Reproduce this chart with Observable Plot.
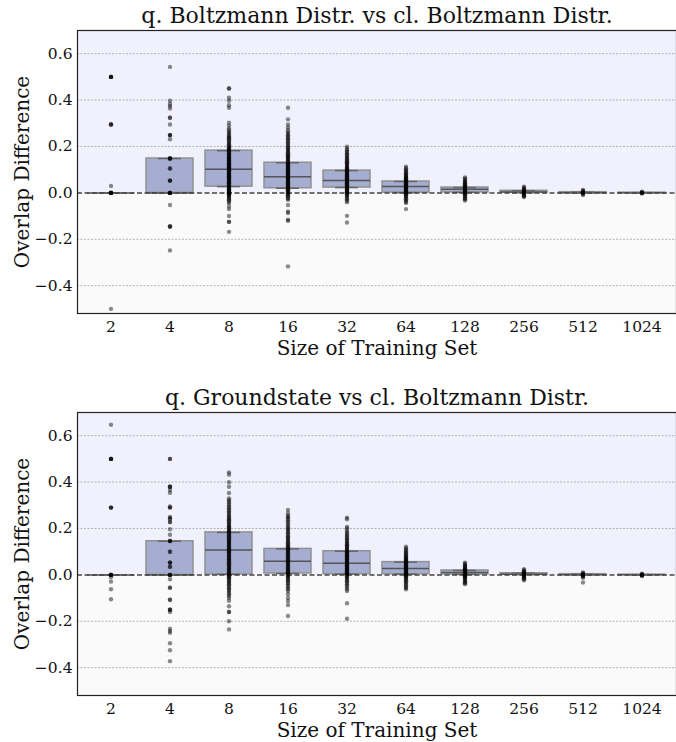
<!DOCTYPE html>
<html><head><meta charset="utf-8">
<script src="https://cdn.jsdelivr.net/npm/d3@7"></script>
<script src="https://cdn.jsdelivr.net/npm/@observablehq/plot@0.6"></script>
<style>
body{margin:0;background:#fff}
#c{position:relative;width:676px;height:742px}
#c > div{position:absolute;left:0}
svg, svg text{font-family:"DejaVu Serif", serif !important}
</style>
</head><body><div id="c"><div id="p1" style="top:0"></div><div id="p2" style="top:382px"></div></div>
<script>
const sizes = ["2","4","8","16","32","64","128","256","512","1024"];
const yTicks = [-0.4,-0.2,0,0.2,0.4,0.6];
const gridTicks = [-0.4,-0.2,0.2,0.4,0.6];

const title1 = "q. Boltzmann Distr. vs cl. Boltzmann Distr.";
const title2 = "q. Groundstate vs cl. Boltzmann Distr.";
const xLabel = "Size of Training Set";
const yLabel = "Overlap Difference";

// box statistics (panel 1)
const qbQ1  = [0, 0,     0.027, 0.020, 0.023, 0.001, 0.002, 0.001, 0,     0];
const qbMed = [0, 0,     0.102, 0.069, 0.053, 0.027, 0.016, 0.004, 0.001, 0.0005];
const qbQ3  = [0, 0.148, 0.182, 0.130, 0.096, 0.049, 0.023, 0.009, 0.003, 0.001];
// box statistics (panel 2)
const qgQ1  = [0, 0,     0.002, 0.006, 0.003, 0.003, 0.002, 0.001, 0,     0];
const qgMed = [0, 0,     0.107, 0.059, 0.050, 0.027, 0.010, 0.003, 0.001, 0.0005];
const qgQ3  = [0, 0.145, 0.183, 0.112, 0.102, 0.055, 0.019, 0.007, 0.003, 0.001];

// points panel 1
const qb2 = [0.5,0.5,0.5,0.5,0.295,0.295,0.295,0.03,0,0,0,0,0,0,0,0,-0.5];
const qb4 = [0.543,0.397,0.383,0.374,0.364,0.324,0.324,0.295,0.249,0.249,0.249,0.231,0.148,0.148,0.148,0.148,0.105,0.105,0.053,0.053,0.053,0,0,0,0,0,-0.052,-0.145,-0.145,-0.145,-0.248];
const qb8 = [0.45,0.45,0.41,0.397,0.378,0.367,0.302,0.29,
  0.278,0.27,0.262,0.258,0.25,0.245,0.24,0.236,0.23,0.226,0.22,0.215,0.21,0.205,0.2,0.197,0.193,0.19,0.186,0.182,0.18,0.177,0.173,0.17,0.166,0.163,0.16,0.156,0.152,0.15,0.148,0.146,0.143,0.14,0.137,0.134,0.131,0.128,0.125,0.122,0.12,0.117,0.114,0.111,0.108,0.105,0.102,0.1,0.098,0.095,0.092,0.09,0.087,0.084,0.081,0.078,0.075,0.072,0.07,0.067,0.064,0.061,0.058,0.055,0.052,0.05,0.047,0.044,0.041,0.038,0.035,0.032,0.03,0.027,0.025,0.022,0.019,0.016,0.013,0.01,0.008,0.005,0.003,0,0,0,-0.003,-0.006,-0.01,-0.014,-0.018,-0.022,-0.027,-0.032,-0.038,-0.044,
  -0.059,-0.07,-0.1,-0.125,-0.125,-0.168];
const qb16 = [0.367,0.317,0.295,0.282,0.27,
  0.26,0.254,0.248,0.242,0.236,0.23,0.224,0.218,0.212,0.206,0.2,0.195,0.19,0.185,0.18,0.175,0.17,0.166,0.162,0.158,0.154,0.15,0.146,0.142,0.138,0.134,0.13,0.127,0.124,0.121,0.118,0.115,0.112,0.109,0.106,0.103,0.1,0.097,0.094,0.091,0.088,0.085,0.082,0.079,0.076,0.073,0.07,0.067,0.064,0.061,0.058,0.055,0.052,0.049,0.046,0.043,0.04,0.037,0.034,0.031,0.028,0.025,0.022,0.019,0.016,0.013,0.01,0.007,0.004,0.001,-0.002,-0.006,-0.01,-0.015,-0.02,-0.025,-0.03,
  -0.052,-0.08,-0.087,-0.116,-0.12,-0.317];
const qb32 = [0.199,0.19,0.183,0.177,0.171,0.165,0.16,0.155,0.15,0.145,0.14,0.136,0.132,0.128,0.124,0.12,0.116,0.112,0.108,0.105,0.102,0.099,0.096,0.093,0.09,0.087,0.084,0.081,0.078,0.075,0.072,0.069,0.066,0.063,0.06,0.057,0.054,0.051,0.048,0.045,0.042,0.039,0.036,0.033,0.03,0.027,0.024,0.021,0.018,0.015,0.012,0.009,0.006,0.003,0,-0.004,-0.008,-0.012,-0.017,-0.022,-0.028,-0.034,-0.04,-0.099,-0.128];
const qb64 = [0.113,0.106,0.1,0.095,0.09,0.085,0.081,0.077,0.073,0.069,0.066,0.063,0.06,0.057,0.054,0.051,0.048,0.045,0.042,0.04,0.037,0.034,0.032,0.029,0.027,0.024,0.022,0.019,0.017,0.014,0.012,0.009,0.007,0.004,0.002,0,-0.003,-0.006,-0.01,-0.014,-0.018,-0.023,-0.028,-0.033,-0.038,-0.044,-0.07];
const qb128 = [0.067,0.061,0.056,0.051,0.047,0.043,0.04,0.036,0.033,0.03,0.027,0.024,0.021,0.018,0.016,0.013,0.011,0.008,0.006,0.004,0.002,0,-0.003,-0.006,-0.01,-0.014,-0.019,-0.024,-0.028,-0.033];
const qb256 = [0.027,0.022,0.018,0.014,0.011,0.008,0.006,0.004,0.002,0,-0.002,-0.005,-0.008,-0.012,-0.015,-0.018];
const qb512 = [0.013,0.009,0.006,0.003,0.001,0,-0.002,-0.005,-0.009];
const qb1024 = [0.005,0.003,0.001,0,-0.001,-0.003];

// points panel 2
const qg2 = [0.647,0.5,0.5,0.5,0.5,0.29,0.29,0.29,0,0,0,0,0,0,-0.01,-0.029,-0.062,-0.105];
const qg4 = [0.5,0.5,0.38,0.38,0.38,0.366,0.354,0.295,0.29,0.29,0.25,0.243,0.243,0.228,0.228,0.197,0.173,0.146,0.146,0.146,0.1,0.1,0.053,0.053,0.053,0.035,0.035,0,0,0,0,-0.019,-0.055,-0.055,-0.107,-0.107,-0.15,-0.15,-0.15,-0.16,-0.232,-0.242,-0.25,-0.295,-0.325,-0.372];
const qg8 = [0.442,0.432,0.399,0.38,0.353,
  0.33,0.322,0.315,0.308,0.3,0.293,0.287,0.28,0.274,0.268,0.262,0.256,0.25,0.245,0.24,0.235,0.23,0.225,0.22,0.215,0.21,0.206,0.202,0.198,0.194,0.19,0.186,0.182,0.178,0.174,0.17,0.166,0.162,0.158,0.154,0.15,0.146,0.142,0.138,0.134,0.13,0.126,0.122,0.118,0.114,0.11,0.106,0.102,0.098,0.094,0.09,0.086,0.082,0.078,0.074,0.07,0.066,0.062,0.058,0.054,0.05,0.046,0.042,0.038,0.034,0.03,0.026,0.022,0.018,0.014,0.01,0.006,0.002,0,-0.003,-0.007,-0.011,-0.015,-0.02,-0.025,-0.03,-0.035,-0.04,-0.046,-0.052,-0.058,-0.064,-0.07,-0.077,-0.084,-0.091,-0.1,-0.112,
  -0.135,-0.16,-0.16,-0.2,-0.235];
const qg16 = [0.28,0.265,0.255,
  0.25,0.243,0.236,0.229,0.222,0.215,0.208,0.202,0.196,0.19,0.184,0.178,0.172,0.166,0.161,0.156,0.151,0.146,0.141,0.136,0.131,0.127,0.123,0.119,0.115,0.111,0.107,0.103,0.099,0.095,0.091,0.087,0.083,0.079,0.075,0.071,0.067,0.063,0.059,0.055,0.051,0.047,0.043,0.039,0.035,0.031,0.027,0.023,0.019,0.015,0.011,0.007,0.003,0,-0.004,-0.008,-0.013,-0.018,-0.023,-0.029,-0.035,-0.041,-0.048,-0.055,-0.062,-0.07,-0.083,
  -0.1,-0.113,-0.13,-0.177];
const qg32 = [0.247,0.24,0.207,0.2,
  0.19,0.183,0.176,0.17,0.164,0.158,0.152,0.147,0.142,0.137,0.132,0.128,0.124,0.12,0.116,0.112,0.108,0.104,0.1,0.097,0.094,0.091,0.088,0.085,0.082,0.079,0.076,0.073,0.07,0.067,0.064,0.061,0.058,0.055,0.052,0.049,0.046,0.043,0.04,0.037,0.034,0.031,0.028,0.025,0.022,0.019,0.016,0.013,0.01,0.007,0.004,0.001,-0.003,-0.007,-0.012,-0.017,-0.022,-0.028,-0.034,-0.04,-0.047,-0.054,-0.062,-0.07,
  -0.122,-0.189];
const qg64 = [0.121,0.114,0.108,0.102,0.097,0.092,0.087,0.083,0.079,0.075,0.071,0.068,0.065,0.062,0.059,0.056,0.053,0.05,0.047,0.044,0.041,0.038,0.036,0.033,0.03,0.027,0.025,0.022,0.019,0.017,0.014,0.012,0.009,0.007,0.004,0.002,0,-0.003,-0.006,-0.01,-0.014,-0.018,-0.023,-0.028,-0.033,-0.039,-0.045,-0.051,-0.057,-0.062];
const qg128 = [0.053,0.048,0.043,0.039,0.035,0.031,0.028,0.025,0.022,0.019,0.016,0.014,0.011,0.009,0.007,0.005,0.003,0.001,-0.001,-0.004,-0.007,-0.01,-0.014,-0.018,-0.022,-0.027,-0.032,-0.036,-0.04];
const qg256 = [0.025,0.02,0.016,0.012,0.009,0.006,0.004,0.002,0,-0.002,-0.005,-0.008,-0.011,-0.015,-0.019,-0.023];
const qg512 = [0.01,0.007,0.004,0.002,0,-0.002,-0.005,-0.008,-0.012,-0.033];
const qg1024 = [0.005,0.003,0.001,0,-0.001,-0.003,-0.005];

function panel(title, q1, med, q3, pts) {
  const points = [];
  sizes.forEach((s, i) => pts[i].forEach(v => points.push({size: s, v})));
  const boxes = sizes.map((s, i) => ({size: s, q1: q1[i], med: med[i], q3: q3[i]}));
  return Plot.plot({
    width: 676, height: 360,
    marginTop: 30, marginBottom: 47, marginLeft: 77, marginRight: 0,
    style: {fontFamily: "DejaVu Serif", fontSize: "15px", color: "#111", background: "white", overflow: "visible"},
    x: {type: "band", domain: sizes, paddingInner: 0.2, paddingOuter: 0.1, axis: null},
    y: {domain: [-0.52, 0.7], axis: null},
    marks: [
      Plot.frame({fill: "#fafafa"}),
      Plot.rect([{a: 0, b: 0.7}], {y1: "a", y2: "b", fill: "#f1f1fe"}),
      Plot.ruleY(gridTicks, {stroke: "#aaa", strokeWidth: 0.9, strokeDasharray: "2,1.5"}),
      Plot.barY(boxes, {x: "size", y1: "q1", y2: "q3", fill: "#a5add1", stroke: "#919191", strokeWidth: 1.5}),
      Plot.tickY(boxes, {x: "size", y: "med", stroke: "#555", strokeWidth: 1.5}),
      Plot.tickY(boxes, {x: "size", y: "q3", stroke: "#666", strokeWidth: 1.5, insetLeft: 12, insetRight: 12}),
      Plot.tickY(boxes, {x: "size", y: "q1", stroke: "#666", strokeWidth: 1.5, insetLeft: 12, insetRight: 12}),
      Plot.ruleY([0], {stroke: "#444", strokeWidth: 1.5, strokeDasharray: "5,2.5"}),
      Plot.dot(points, {x: "size", y: "v", r: 2.2, fill: "black", fillOpacity: 0.45, stroke: null}),
      Plot.frame({stroke: "#222", strokeWidth: 1.2}),
      Plot.axisX({tickSize: 0, tickPadding: 7, fontSize: 15.5, label: null, fill: "#111"}),
      Plot.axisY({ticks: yTicks, tickFormat: d3.format(".1f"), tickSize: 0, tickPadding: 5, fontSize: 15.5, label: null, fill: "#111"}),
      Plot.text([title], {text: d => d, frameAnchor: "top", dy: -15, fontSize: 22, textAnchor: "middle", lineAnchor: "middle", fill: "#111"}),
      Plot.text([xLabel], {text: d => d, frameAnchor: "bottom", dy: 35, fontSize: 20, textAnchor: "middle", lineAnchor: "middle", fill: "#111"}),
      Plot.text([yLabel], {text: d => d, frameAnchor: "left", dx: -55, rotate: -90, fontSize: 20, textAnchor: "middle", lineAnchor: "middle", fill: "#111"})
    ]
  });
}

document.getElementById("p1").appendChild(
  panel(title1, qbQ1, qbMed, qbQ3, [qb2, qb4, qb8, qb16, qb32, qb64, qb128, qb256, qb512, qb1024]));
document.getElementById("p2").appendChild(
  panel(title2, qgQ1, qgMed, qgQ3, [qg2, qg4, qg8, qg16, qg32, qg64, qg128, qg256, qg512, qg1024]));
</script>
</body></html>
